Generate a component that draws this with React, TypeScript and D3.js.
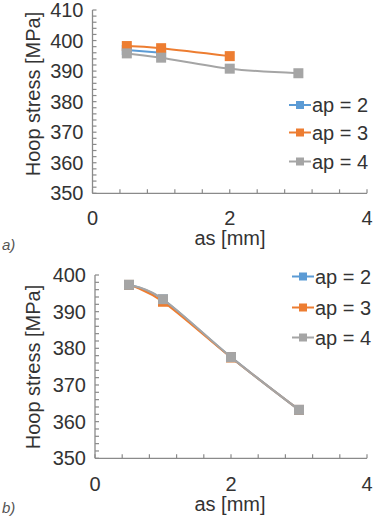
import React from "react";
import * as d3 from "d3";

const xValues = [0.5, 1, 2, 3];
const seriesNames = ["ap = 2", "ap = 3", "ap = 4"];
const seriesColors = ["#5B9BD5", "#ED7D31", "#A5A5A5"];

// Chart a)
const aAp2 = [396.9, 396.0];
const aAp3 = [398.2, 397.5, 394.9];
const aAp4 = [395.8, 394.4, 390.8, 389.3];
const aYTicks = [350, 360, 370, 380, 390, 400, 410];

// Chart b)
const bAp2 = [397.3, 393.3, 377.6, 363.2];
const bAp3 = [397.3, 392.7, 377.5, 363.2];
const bAp4 = [397.3, 393.4, 377.6, 363.2];
const bYTicks = [350, 360, 370, 380, 390, 400];

const xTicks = [0, 2, 4];

const FONT = "'Liberation Sans', Arial, sans-serif";
const TEXT = "#333";
const AXIS = "#8a8a8a";
const FS = 20;

type Panel = {
  label: string;
  series: number[][];
  yDomain: [number, number];
  yTicks: number[];
  left: number;
  right: number;
  top: number;
  bottom: number;
  legendX: number;
  legendYs: number[];
  titleY: number;
  tickLabelY: number;
  yTitleY: number;
  panelLabelY: number;
};

const panels: Panel[] = [
  {
    label: "a)",
    series: [aAp2, aAp3, aAp4],
    yDomain: [350, 410],
    yTicks: aYTicks,
    left: 92.5,
    right: 367,
    top: 10,
    bottom: 193.3,
    legendX: 289,
    legendYs: [105, 132.5, 161.5],
    titleY: 238,
    tickLabelY: 218,
    yTitleY: 94,
    panelLabelY: 250,
  },
  {
    label: "b)",
    series: [bAp2, bAp3, bAp4],
    yDomain: [350, 400],
    yTicks: bYTicks,
    left: 95,
    right: 367,
    top: 275,
    bottom: 458.3,
    legendX: 292,
    legendYs: [276.5, 307.5, 337.5],
    titleY: 503.5,
    tickLabelY: 483.5,
    yTitleY: 367,
    panelLabelY: 513,
  },
];

function ChartPanel({ p }: { p: Panel }) {
  const x = d3.scaleLinear().domain([0, 4]).range([p.left, p.right]);
  const y = d3.scaleLinear().domain(p.yDomain).range([p.bottom, p.top]);
  const line = d3
    .line<[number, number]>()
    .x((d) => x(d[0]))
    .y((d) => y(d[1]))
    .curve(d3.curveCardinal.tension(0));
  const yMinor = d3.range(p.yDomain[0], p.yDomain[1] + 0.001, 2);
  const xMinor = d3.range(0, 4.001, 0.4);
  const ms = 10;
  const lms = 8;
  return (
    <g>
      <line x1={p.left} x2={p.left} y1={p.top} y2={p.bottom} stroke={AXIS} strokeWidth={1.3} />
      <line x1={p.left} x2={p.right} y1={p.bottom} y2={p.bottom} stroke={AXIS} strokeWidth={1.3} />
      {yMinor.map((v) => (
        <line key={"ym" + v} x1={p.left} x2={p.left + 4} y1={y(v)} y2={y(v)} stroke={AXIS} strokeWidth={1.2} />
      ))}
      {xMinor.map((v) => (
        <line key={"xm" + v} x1={x(v)} x2={x(v)} y1={p.bottom} y2={p.bottom - 4} stroke={AXIS} strokeWidth={1.2} />
      ))}
      {p.yTicks.map((v) => (
        <text key={"yt" + v} x={p.left - 9} y={y(v)} dy="0.35em" textAnchor="end" fontSize={FS} fill={TEXT} fontFamily={FONT}>
          {v}
        </text>
      ))}
      {xTicks.map((v) => (
        <text key={"xt" + v} x={x(v)} y={p.tickLabelY} dy="0.35em" textAnchor="middle" fontSize={FS} fill={TEXT} fontFamily={FONT}>
          {v}
        </text>
      ))}
      <text x={230} y={p.titleY} dy="0.35em" textAnchor="middle" fontSize={FS} fill={TEXT} fontFamily={FONT}>
        as [mm]
      </text>
      <text
        transform={`translate(33,${p.yTitleY}) rotate(-90)`}
        dy="0.35em"
        textAnchor="middle"
        fontSize={FS}
        fill={TEXT}
        fontFamily={FONT}
      >
        Hoop stress [MPa]
      </text>
      <text x={2} y={p.panelLabelY} fontSize={15} fontStyle="italic" fill="#555" fontFamily={FONT}>
        {p.label}
      </text>
      {p.series.map((vals, i) => {
        const pts = vals.map((v, j) => [xValues[j], v] as [number, number]);
        return (
          <g key={"s" + i}>
            <path d={line(pts) || ""} fill="none" stroke={seriesColors[i]} strokeWidth={2} />
            {pts.map((d, j) => (
              <rect key={j} x={x(d[0]) - ms / 2} y={y(d[1]) - ms / 2} width={ms} height={ms} fill={seriesColors[i]} />
            ))}
          </g>
        );
      })}
      {seriesNames.map((n, i) => (
        <g key={"l" + i}>
          <line x1={p.legendX} x2={p.legendX + 22} y1={p.legendYs[i]} y2={p.legendYs[i]} stroke={seriesColors[i]} strokeWidth={2} />
          <rect x={p.legendX + 11 - lms / 2} y={p.legendYs[i] - lms / 2} width={lms} height={lms} fill={seriesColors[i]} />
          <text x={p.legendX + 23} y={p.legendYs[i]} dy="0.35em" fontSize={FS} fill={TEXT} fontFamily={FONT}>
            {n}
          </text>
        </g>
      ))}
    </g>
  );
}

export default function App() {
  return (
    <svg
      width={378}
      height={518}
      style={{ position: "absolute", left: 0, top: 0, background: "#fff" }}
    >
      <rect width={378} height={518} fill="#fff" />
      {panels.map((p, i) => (
        <ChartPanel key={i} p={p} />
      ))}
    </svg>
  );
}
